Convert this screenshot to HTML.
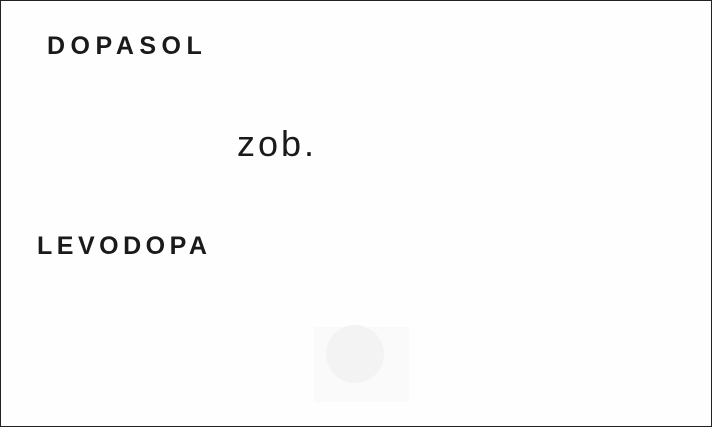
<!DOCTYPE html>
<html><head><meta charset="utf-8"><style>
html,body{margin:0;padding:0;background:#fff;}
.card{position:relative;width:710px;height:425px;border:1px solid #222;background:#fefefe;overflow:hidden;}
.t{position:absolute;font-family:"Liberation Sans",sans-serif;color:#1a1a1a;white-space:nowrap;}
</style></head><body>
<div class="card">
<div class="t" style="left:46px;top:31px;font-size:25px;letter-spacing:5.5px;font-weight:bold;">DOPASOL</div>
<div class="t" style="left:236px;top:122px;font-size:36px;letter-spacing:3px;">zob.</div>
<div class="t" style="left:36px;top:231px;font-size:25px;letter-spacing:4.5px;font-weight:bold;">LEVODOPA</div>
<div style="position:absolute;left:313px;top:326px;width:95px;height:75px;background:#fafafa;"></div>
<div style="position:absolute;left:325px;top:324px;width:58px;height:58px;border-radius:50%;background:#f3f3f3;"></div>
</div>
</body></html>
